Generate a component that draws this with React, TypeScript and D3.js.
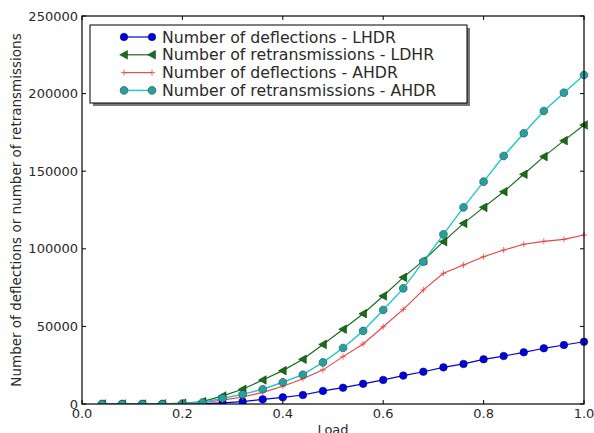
import React from 'react';
import * as d3 from 'd3';

const load = [0.04, 0.08, 0.12, 0.16, 0.2, 0.24, 0.28, 0.32, 0.36, 0.4, 0.44, 0.48, 0.52,
  0.56, 0.6, 0.64, 0.68, 0.72, 0.76, 0.8, 0.84, 0.88, 0.92, 0.96, 1.0];

const deflLHDR = [0, 0, 0, 0, 0, 200, 700, 1500, 3000, 4300, 5800, 8400, 10500, 13000, 15500,
  18300, 20800, 23600, 25800, 28800, 30900, 33300, 35900, 38000, 40100];
const retransLDHR = [0, 0, 0, 100, 500, 1500, 5200, 9500, 15500, 21500, 28800, 38400, 48200,
  58200, 69600, 81600, 92400, 104600, 116400, 126700, 136800, 148000, 159400, 169700, 179800];
const deflAHDR = [0, 0, 0, 0, 300, 1000, 2500, 4500, 7500, 11500, 16300, 22000, 30500, 38700,
  49800, 61000, 73500, 84200, 89600, 94900, 99200, 102900, 104800, 106100, 108900];
const retransAHDR = [0, 0, 0, 0, 300, 1000, 3700, 6200, 9500, 14000, 18900, 26800, 36100, 47100,
  60600, 74500, 91700, 109300, 126700, 143300, 159800, 174400, 188800, 200600, 212000];

const xTicks = [0, 0.2, 0.4, 0.6, 0.8, 1.0];
const yTicks = [0, 50000, 100000, 150000, 200000, 250000];

const seriesNames = [
  'Number of deflections - LHDR',
  'Number of retransmissions - LDHR',
  'Number of deflections - AHDR',
  'Number of retransmissions - AHDR',
];

const FONT = 'DejaVu Sans, sans-serif';
const TEXT = '#2a2a2a';

const margin = { left: 82, right: 10, top: 16, bottom: 29 };
const W = 594;
const H = 433;

// marker drawing, matplotlib style
function Marker({ kind, x, y, color }: { kind: string; x: number; y: number; color: string }) {
  if (kind === 'circle') {
    return <circle cx={x} cy={y} r={3.8} fill={color} stroke="#000040" strokeWidth={0.5} />;
  }
  if (kind === 'tri') {
    const s = 4.3;
    const p = `M${x - s},${y} L${x + s * 0.8},${y - s} L${x + s * 0.8},${y + s} Z`;
    return <path d={p} fill={color} stroke="#003000" strokeWidth={0.5} />;
  }
  if (kind === 'plus') {
    return (
      <path d={`M${x - 3},${y} H${x + 3} M${x},${y - 3} V${y + 3}`} stroke={color} strokeWidth={0.8} fill="none" />
    );
  }
  // octagon
  const r = 4.1;
  const pts = d3.range(8).map(i => {
    const a = Math.PI / 8 + (i * Math.PI) / 4;
    return [x + r * Math.cos(a), y + r * Math.sin(a)];
  });
  return <path d={'M' + pts.map(p => p.join(',')).join('L') + 'Z'} fill="#2a9e9e" stroke="#104040" strokeWidth={0.5} />;
}

export default function App() {
  const x = d3.scaleLinear().domain([0, 1]).range([margin.left, W - margin.right]);
  const y = d3.scaleLinear().domain([0, 250000]).range([H - margin.bottom, margin.top]);

  const series = [
    { name: seriesNames[0], values: deflLHDR, color: '#0000e0', marker: 'circle', width: 1.2 },
    { name: seriesNames[1], values: retransLDHR, color: '#1a6e1a', marker: 'tri', width: 1.2 },
    { name: seriesNames[2], values: deflAHDR, color: '#f04040', marker: 'plus', width: 1.1 },
    { name: seriesNames[3], values: retransAHDR, color: '#20c8c8', marker: 'oct', width: 1.4 },
  ];

  const line = d3.line<number>()
    .x((d, i) => x(load[i]))
    .y(d => y(d));

  const x0 = x(0), x1 = x(1), y0 = y(0), y1 = y(250000);

  const lgX = 90, lgY = 25, lgW = 377, lgH = 78;

  return (
    <svg width={W} height={H} style={{ position: 'absolute', left: 0, top: 0, background: '#fff' }}>
      <rect x={0} y={0} width={W} height={H} fill="#fff" />

      <defs>
        <clipPath id="plot">
          <rect x={x0} y={y1} width={x1 - x0 + 6} height={y0 - y1} />
        </clipPath>
      </defs>

      <g clipPath="url(#plot)">
        {series.map(s => (
          <g key={s.name}>
            <path d={line(s.values) || ''} fill="none" stroke={s.color} strokeWidth={s.width} />
            {s.values.map((v, i) => (
              <Marker key={i} kind={s.marker} x={x(load[i])} y={y(v)} color={s.color} />
            ))}
          </g>
        ))}
      </g>

      {/* frame */}
      <rect x={x0} y={y1} width={x1 - x0} height={y0 - y1} fill="none" stroke="#000" strokeWidth={1.2} />

      {/* ticks */}
      {xTicks.map(t => (
        <g key={'x' + t}>
          <line x1={x(t)} x2={x(t)} y1={y0} y2={y0 - 4} stroke="#000" />
          <line x1={x(t)} x2={x(t)} y1={y1} y2={y1 + 4} stroke="#000" />
          <text x={x(t)} y={y0 + 14} textAnchor="middle" fontFamily={FONT} fontSize={13} fill={TEXT}>
            {t.toFixed(1)}
          </text>
        </g>
      ))}
      {yTicks.map(t => (
        <g key={'y' + t}>
          <line x1={x0} x2={x0 + 4} y1={y(t)} y2={y(t)} stroke="#000" />
          <line x1={x1} x2={x1 - 4} y1={y(t)} y2={y(t)} stroke="#000" />
          <text x={x0 - 4} y={y(t) + 4.5} textAnchor="end" fontFamily={FONT} fontSize={13} fill={TEXT}>
            {t}
          </text>
        </g>
      ))}

      <text x={(x0 + x1) / 2} y={H + 1} textAnchor="middle" fontFamily={FONT} fontSize={13} fill={TEXT}>
        Load
      </text>
      <text
        transform={`translate(21,${(y0 + y1) / 2}) rotate(-90)`}
        textAnchor="middle"
        fontFamily={FONT}
        fontSize={13.5}
        fill={TEXT}
      >
        Number of deflections or number of retransmissions
      </text>

      {/* legend */}
      <rect x={lgX + 3} y={lgY + 3} width={lgW} height={lgH} fill="#555" opacity={0.8} />
      <rect x={lgX} y={lgY} width={lgW} height={lgH} fill="#fff" stroke="#000" strokeWidth={1} />
      {series.map((s, i) => {
        const ly = lgY + 12 + i * 17.8;
        return (
          <g key={'lg' + i}>
            <line x1={124} x2={152} y1={ly} y2={ly} stroke={s.color} strokeWidth={s.width} />
            <Marker kind={s.marker} x={124} y={ly} color={s.color} />
            <Marker kind={s.marker} x={152} y={ly} color={s.color} />
            <text
              transform={`translate(162,${ly + 5.5}) scale(1.05,1)`}
              fontFamily={FONT}
              fontSize={15}
              fill={TEXT}
            >
              {s.name}
            </text>
          </g>
        );
      })}
    </svg>
  );
}
